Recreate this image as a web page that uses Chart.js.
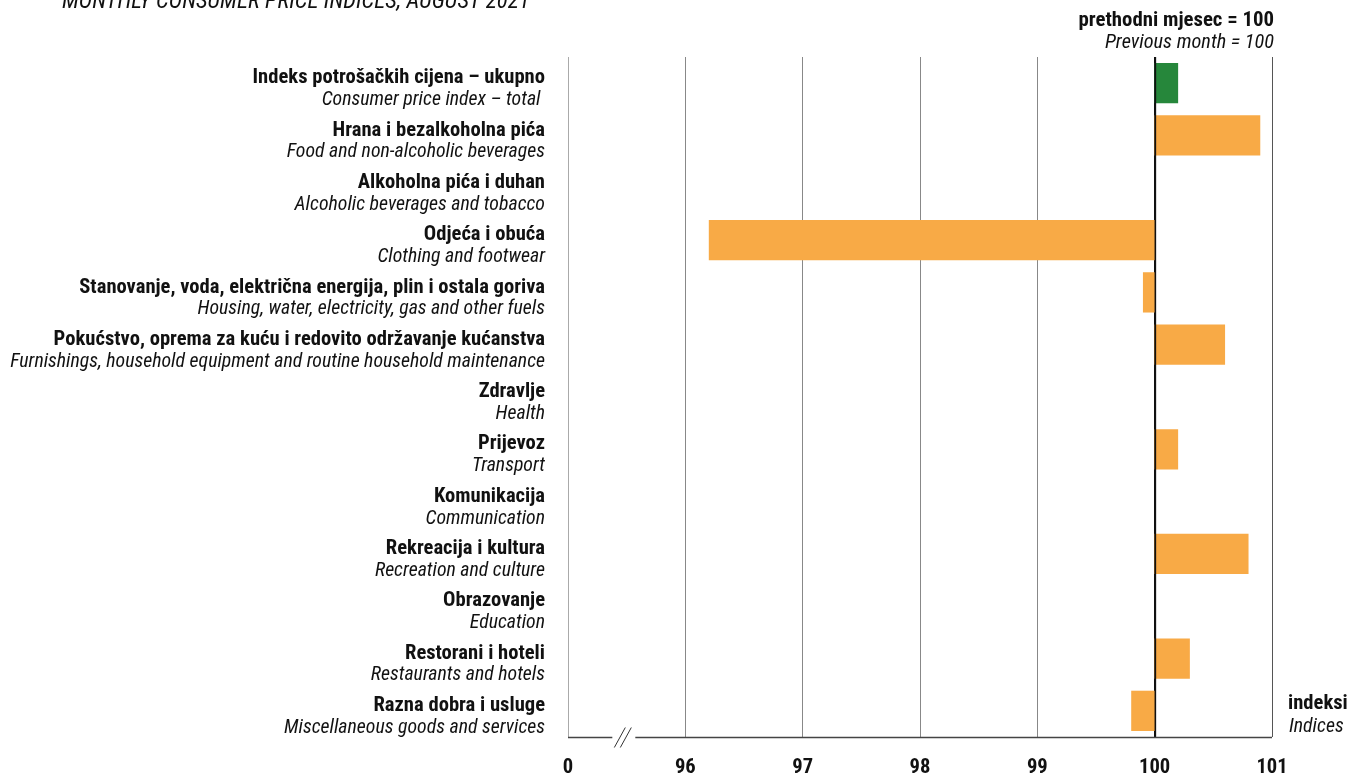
<!DOCTYPE html>
<html>
<head>
<meta charset="utf-8">
<script src="https://cdn.jsdelivr.net/npm/chart.js@4.4.1/dist/chart.umd.min.js"></script>
<style>
html,body{margin:0;padding:0;background:#fff;overflow:hidden;}
#wrap{width:1360px;height:776px;position:relative;}
</style>
</head>
<body>
<div id="wrap"><canvas id="c" width="1360" height="776"></canvas></div>
<script>
const labelsHr = [
  'Indeks potrošačkih cijena – ukupno',
  'Hrana i bezalkoholna pića',
  'Alkoholna pića i duhan',
  'Odjeća i obuća',
  'Stanovanje, voda, električna energija, plin i ostala goriva',
  'Pokućstvo, oprema za kuću i redovito održavanje kućanstva',
  'Zdravlje',
  'Prijevoz',
  'Komunikacija',
  'Rekreacija i kultura',
  'Obrazovanje',
  'Restorani i hoteli',
  'Razna dobra i usluge'
];
const labelsEn = [
  'Consumer price index – total ',
  'Food and non-alcoholic beverages',
  'Alcoholic beverages and tobacco',
  'Clothing and footwear',
  'Housing, water, electricity, gas and other fuels',
  'Furnishings, household equipment and routine household maintenance',
  'Health',
  'Transport',
  'Communication',
  'Recreation and culture',
  'Education',
  'Restaurants and hotels',
  'Miscellaneous goods and services'
];
const values = [100.2, 100.9, 100.0, 96.2, 99.9, 100.6, 100.0, 100.2, 100.0, 100.8, 100.0, 100.3, 99.8];
const baseValue = 100;
const xTickValues = [95, 96, 97, 98, 99, 100, 101];
const xTickLabels = ['0', '96', '97', '98', '99', '100', '101'];
const titleText = 'MONTHLY CONSUMER PRICE INDICES, AUGUST 2021';
const unitHr = 'prethodni mjesec = 100';
const unitEn = 'Previous month = 100';
const axisHr = 'indeksi';
const axisEn = 'Indices';

const FONT = "'Liberation Sans Narrow','Roboto Condensed','DejaVu Sans Condensed',sans-serif";
const GREEN = '#26873b';
const ORANGE = '#f8aa46';

const textPlugin = {
  id: 'textPlugin',
  afterDatasetsDraw(chart) {
    const ctx = chart.ctx;
    const x = chart.scales.x;
    const ca = chart.chartArea;
    ctx.save();
    const p100 = Math.round(x.getPixelForValue(baseValue)) + 0.5;
    ctx.strokeStyle = '#111';
    ctx.lineWidth = 1.3;
    ctx.beginPath();
    ctx.moveTo(p100, ca.top);
    ctx.lineTo(p100, ca.bottom);
    ctx.stroke();
    const xb = x.getPixelForValue(95.48);
    const yb = ca.bottom + 0.5;
    ctx.strokeStyle = '#444';
    ctx.lineWidth = 1.6;
    ctx.beginPath();
    ctx.moveTo(ca.left, yb);
    ctx.lineTo(xb - 12, yb);
    ctx.moveTo(xb + 11, yb);
    ctx.lineTo(ca.right, yb);
    ctx.stroke();
    ctx.lineWidth = 1;
    ctx.strokeStyle = '#333';
    ctx.beginPath();
    ctx.moveTo(xb - 10, yb + 10);
    ctx.lineTo(xb + 1, yb - 10);
    ctx.moveTo(xb - 4, yb + 10);
    ctx.lineTo(xb + 7, yb - 10);
    ctx.stroke();
    ctx.restore();
  },
  afterDraw(chart) {
    const ctx = chart.ctx;
    const y = chart.scales.y;
    ctx.save();
    ctx.fillStyle = '#111';
    ctx.textAlign = 'right';
    ctx.textBaseline = 'middle';
    for (let i = 0; i < labelsHr.length; i++) {
      const yc = y.getPixelForValue(i);
      ctx.font = 'bold 20.6px ' + FONT;
      ctx.fillText(labelsHr[i], 545, yc - 5);
      ctx.font = 'italic 19.8px ' + FONT;
      ctx.fillText(labelsEn[i], 545, yc + 17);
    }
    ctx.textAlign = 'left';
    ctx.textBaseline = 'alphabetic';
    ctx.font = 'italic 23px ' + FONT;
    ctx.fillText(titleText, 62, 8);
    ctx.textAlign = 'right';
    ctx.textBaseline = 'middle';
    ctx.font = 'bold 20.8px ' + FONT;
    ctx.fillText(unitHr, 1274, 21);
    ctx.font = 'italic 20.3px ' + FONT;
    ctx.fillText(unitEn, 1274, 43);
    ctx.textAlign = 'left';
    ctx.font = 'bold 20.6px ' + FONT;
    ctx.fillText(axisHr, 1288, 704);
    ctx.font = 'italic 19.8px ' + FONT;
    ctx.fillText(axisEn, 1289, 727);
    ctx.restore();
  }
};

new Chart(document.getElementById('c'), {
  type: 'bar',
  data: {
    labels: labelsHr,
    datasets: [{
      data: values.map(v => [baseValue, v]),
      backgroundColor: values.map((v, i) => i === 0 ? GREEN : ORANGE),
      borderWidth: 0,
      borderSkipped: false,
      barPercentage: 0.77,
      categoryPercentage: 1.0
    }]
  },
  options: {
    indexAxis: 'y',
    responsive: false,
    devicePixelRatio: 1,
    animation: false,
    layout: { padding: { left: 568, right: 88, top: 57, bottom: 0 } },
    plugins: { legend: { display: false }, tooltip: { enabled: false }, title: { display: false } },
    scales: {
      x: {
        type: 'linear',
        min: 95,
        max: 101,
        afterBuildTicks(scale) { scale.ticks = xTickValues.map(v => ({ value: v })); },
        afterFit(scale) { scale.height = 39; },
        ticks: {
          autoSkip: false,
          maxRotation: 0,
          padding: 18,
          color: '#111',
          font: { family: FONT, size: 20.6, weight: 'bold' },
          callback(value) { const i = xTickValues.indexOf(value); return i >= 0 ? xTickLabels[i] : ''; }
        },
        grid: {
          drawTicks: false,
          lineWidth: 1,
          color(ctx) {
            const v = ctx.tick && ctx.tick.value;
            if (v === 95) return '#aaaaaa';
            if (v === 100) return '#111111';
            if (v === 101) return '#555555';
            return '#888888';
          }
        },
        border: { display: false }
      },
      y: {
        display: false,
        grid: { display: false }
      }
    }
  },
  plugins: [textPlugin]
});
</script>
</body>
</html>
